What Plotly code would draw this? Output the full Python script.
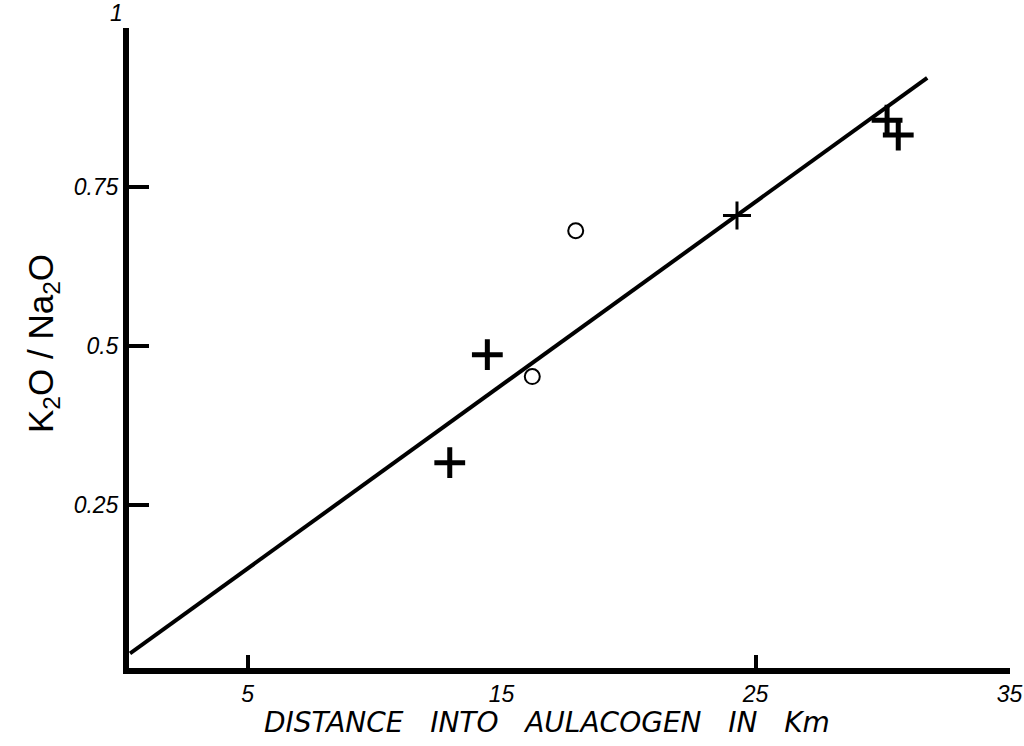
import plotly.graph_objects as go

# ---- data ----
cross_x = [12.96, 14.44, 30.18, 30.62]
cross_y = [0.316, 0.486, 0.855, 0.8315]
thin_cross_x = [24.27]
thin_cross_y = [0.705]
circle_x = [16.21, 17.92]
circle_y = [0.4515, 0.681]
fit_x = [0.37, 31.76]
fit_y = [0.016, 0.9215]

x_tick_vals = [5, 15, 25, 35]
x_tick_text = ["5", "15", "25", "35"]
x_tick_marks = [5, 25, 35]
y_label_vals = [0.25, 0.5, 0.75]
y_label_text = ["0.25", "0.5", "0.75"]
y_tick_marks = [0.25, 0.5, 0.75, 1]

x_title = "DISTANCE\u00a0\u00a0\u00a0INTO\u00a0\u00a0\u00a0AULACOGEN\u00a0\u00a0\u00a0IN\u00a0\u00a0\u00a0Km"
y_title = "K<sub>2</sub>O\u00a0/\u00a0Na<sub>2</sub>O"

FONT = "Liberation Sans"
X_RANGE = [0.33, 35.02]
Y_RANGE = [-0.007, 1.0]

fig = go.Figure()
fig.add_trace(go.Scatter(x=fit_x, y=fit_y, mode="lines",
                         line=dict(color="black", width=4), showlegend=False))
fig.add_trace(go.Scatter(x=cross_x, y=cross_y, mode="markers",
                         marker=dict(symbol="cross-thin", size=22,
                                     line=dict(color="black", width=5)),
                         showlegend=False))
fig.add_trace(go.Scatter(x=thin_cross_x, y=thin_cross_y, mode="markers",
                         marker=dict(symbol="cross-thin", size=20,
                                     line=dict(color="black", width=3)),
                         showlegend=False))
fig.add_trace(go.Scatter(x=circle_x, y=circle_y, mode="markers",
                         marker=dict(symbol="circle-open", size=15, color="black",
                                     line=dict(color="black", width=2)),
                         showlegend=False))
# invisible trace to activate the tick-mark overlay axes
fig.add_trace(go.Scatter(x=[], y=[], xaxis="x2", yaxis="y2", showlegend=False))

tick_font = dict(family=FONT, size=23, color="black", style="italic")

fig.update_layout(
    width=1024, height=746,
    margin=dict(l=129, r=14, t=28, b=78, autoexpand=False),
    paper_bgcolor="white", plot_bgcolor="white",
    xaxis=dict(range=X_RANGE, showgrid=False, zeroline=False, automargin=False,
               showline=True, linecolor="black", linewidth=6,
               tickmode="array", tickvals=x_tick_vals, ticktext=x_tick_text,
               ticks="", tickfont=tick_font),
    xaxis2=dict(range=X_RANGE, overlaying="x", side="bottom", automargin=False,
                showgrid=False, zeroline=False, showline=False,
                tickmode="array", tickvals=x_tick_marks,
                ticks="inside", ticklen=13, tickwidth=4, tickcolor="black",
                showticklabels=False),
    yaxis=dict(range=Y_RANGE, showgrid=False, zeroline=False, automargin=False,
               showline=True, linecolor="black", linewidth=6,
               tickmode="array", tickvals=y_label_vals, ticktext=y_label_text,
               ticks="", tickfont=tick_font),
    yaxis2=dict(range=Y_RANGE, overlaying="y", side="left", automargin=False,
                showgrid=False, zeroline=False, showline=False,
                tickmode="array", tickvals=y_tick_marks,
                ticks="inside", ticklen=20, tickwidth=4, tickcolor="black",
                showticklabels=False),
    annotations=[
        dict(text="1", xref="paper", yref="y", x=0, y=1.0, xanchor="right",
             yanchor="bottom", xshift=-4, yshift=0, showarrow=False,
             font=tick_font),
        dict(text=x_title, xref="paper", yref="paper", x=0.475, y=0,
             xanchor="center", yanchor="middle", yshift=-54, showarrow=False,
             font=dict(family="DejaVu Sans", size=28, color="black", style="italic")),
        dict(text=y_title, xref="paper", yref="paper", x=0, y=0.5,
             xanchor="center", yanchor="middle", xshift=-86, yshift=4,
             textangle=-90, showarrow=False,
             font=dict(family=FONT, size=35, color="black")),
    ],
)

fig.write_html("out.html",
               config={"displayModeBar": False},
               post_script="document.body.style.margin='0';"
                           "document.body.style.overflow='hidden';")
